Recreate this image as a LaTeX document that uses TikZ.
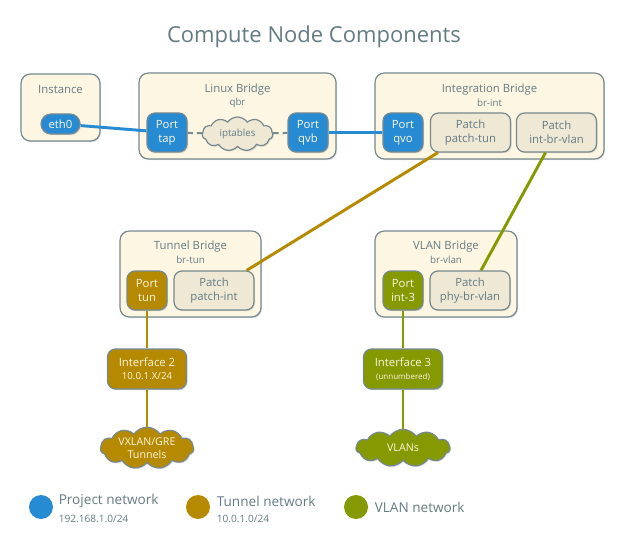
\documentclass[tikz,border=0pt]{standalone}
\usepackage{fontspec}
\setmainfont{Open Sans}
\usetikzlibrary{shapes.symbols,shadows}

\definecolor{cream}{HTML}{FDF6E3}
\definecolor{sand}{HTML}{EEE8D5}
\definecolor{txt}{HTML}{657B83}
\definecolor{edge}{HTML}{75898F}
\definecolor{pblue}{HTML}{268BD2}
\definecolor{pyellow}{HTML}{B58900}
\definecolor{pgreen}{HTML}{859900}

\tikzset{
    shade/.style={drop shadow={opacity=0.25,shadow xshift=0.8pt,shadow yshift=-0.9pt}},
    bridge/.style 2 args={draw=edge,fill=cream,line width=0.9pt,rounded corners=7pt,
        minimum width=#1,minimum height=#2,shade},
    head/.style={text=txt,font=\fontsize{8.5}{10}\selectfont,inner sep=0pt},
    sub/.style={text=txt,font=\fontsize{7.3}{9}\selectfont,inner sep=0pt},
    port/.style={draw=edge,fill=#1,text=cream,line width=0.9pt,rounded corners=6pt,
        minimum width=30pt,minimum height=29.25pt,inner sep=0pt,align=center,
        font=\fontsize{8.5}{10.5}\selectfont,shade},
    patch/.style={port=sand,text=txt,minimum width=60pt},
    iface/.style={port=#1,minimum width=59.25pt,minimum height=30pt},
    puff/.style={cloud,cloud puffs=11,cloud puff arc=110,aspect=2.6,draw=edge,fill=#1,
        line width=0.9pt,inner sep=0pt,align=center,text=cream,
        font=\fontsize{8}{10}\selectfont,shade},
    wire/.style={line width=2.2pt,#1},
    dot/.style={circle,fill=#1,minimum size=18pt,inner sep=0pt},
    legend/.style={text=txt,font=\fontsize{10.2}{12}\selectfont,inner sep=0pt,anchor=west},
    legsub/.style={text=txt,font=\fontsize{7.6}{9}\selectfont,inner sep=0pt,anchor=west}
}

\begin{document}
\begin{tikzpicture}[x=0.75pt,y=-0.75pt]
    \useasboundingbox (0,0) rectangle (624,545);
    \node[text=txt,font=\fontsize{16.5}{20}\selectfont] (title) at (314,37) {Compute Node Components};

    % bridges
    \node[bridge={59.25pt}{50.25pt}] (inst) at (60.5,107.5) {};
    \node[bridge={147.75pt}{64.5pt}] (qbr) at (237.5,116) {};
    \node[bridge={171.75pt}{64.5pt}] (brint) at (489.5,116) {};
    \node[bridge={105.75pt}{64.5pt}] (brtun) at (190.5,274) {};
    \node[bridge={106.5pt}{64.5pt}] (brvlan) at (446,274) {};

    \node[head] (instname) at (60.5,90) {Instance};
    \node[head] (qbrname) at (237.5,90) {Linux Bridge};
    \node[sub] (qbrsub) at (237.5,103) {qbr};
    \node[head] (brintname) at (489.5,90) {Integration Bridge};
    \node[sub] (brintsub) at (489.5,103) {br-int};
    \node[head] (brtunname) at (190.5,247) {Tunnel Bridge};
    \node[sub] (brtunsub) at (190.5,260) {br-tun};
    \node[head] (brvlanname) at (446,247) {VLAN Bridge};
    \node[sub] (brvlansub) at (446,260) {br-vlan};

    % ports
    \node[port=pblue,minimum width=29.25pt,minimum height=15pt,rounded corners=7.5pt] (eth0) at (60.5,124) {eth0};
    \node[port=pblue] (tap) at (167,132.5) {Port\\tap};
    \node[puff=sand,text=txt,font=\fontsize{7.3}{9}\selectfont,minimum width=53pt,minimum height=25.5pt] (ipt) at (237.5,134) {iptables};
    \node[port=pblue] (qvb) at (308,132.5) {Port\\qvb};
    \node[port=pblue] (qvo) at (403,132.5) {Port\\qvo};
    \node[patch] (ptun) at (470.5,132.5) {Patch\\patch-tun};
    \node[patch] (pintvlan) at (556.5,132.5) {Patch\\int-br-vlan};
    \node[port=pyellow] (tun) at (147,290.5) {Port\\tun};
    \node[patch] (pint) at (214,290.5) {Patch\\patch-int};
    \node[port=pgreen] (int3) at (403,290.5) {Port\\int-3};
    \node[patch] (pphy) at (470,290.5) {Patch\\phy-br-vlan};

    % interfaces and clouds
    \node[iface=pyellow] (if2) at (147,369) {Interface 2\\[-1pt]{\fontsize{7.3}{9}\selectfont 10.0.1.X/24}};
    \node[iface=pgreen] (if3) at (403,369) {Interface 3\\[-1pt]{\fontsize{6}{8}\selectfont (unnumbered)}};
    \node[puff=pyellow,minimum width=70pt,minimum height=28pt] (tunnels) at (147,448) {VXLAN/GRE\\Tunnels};
    \node[puff=pgreen,minimum width=70.5pt,minimum height=28pt] (vlans) at (403,448) {VLANs};

    % wires
    \draw[wire=pblue] (eth0) -- (tap);
    \draw[wire=pblue] (qvb) -- (qvo);
    \draw[line width=1.5pt,edge,dash pattern=on 4pt off 3pt] (tap) -- (ipt);
    \draw[line width=1.5pt,edge,dash pattern=on 4pt off 3pt] (ipt) -- (qvb);
    \draw[wire=pyellow] (ptun) -- (pint);
    \draw[wire=pyellow] (tun) -- (if2);
    \draw[wire=pyellow] (if2) -- (tunnels);
    \draw[wire=pgreen] (pintvlan) -- (pphy);
    \draw[wire=pgreen] (int3) -- (if3);
    \draw[wire=pgreen] (if3) -- (vlans);

    % legend
    \node[dot=pblue] (projdot) at (41,507) {};
    \node[legend] (projname) at (58.5,501) {Project network};
    \node[legsub] (projsub) at (58.5,518.5) {192.168.1.0/24};
    \node[dot=pyellow] (tundot) at (198,507) {};
    \node[legend] (tunname) at (216.5,501) {Tunnel network};
    \node[legsub] (tunsub) at (216.5,518.5) {10.0.1.0/24};
    \node[dot=pgreen] (vlandot) at (356,507) {};
    \node[legend] (vlanname) at (374.5,507) {VLAN network};
\end{tikzpicture}
\end{document}
